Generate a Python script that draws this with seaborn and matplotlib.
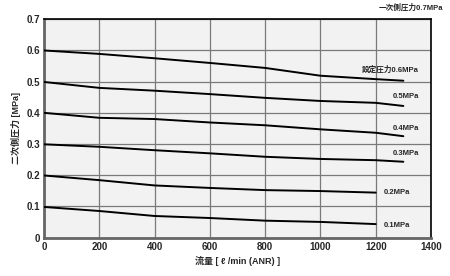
import matplotlib
matplotlib.use("Agg")
import matplotlib.pyplot as plt
import seaborn as sns
import pandas as pd

# Data
flow = [0, 200, 400, 600, 800, 1000, 1200, 1300]
flow_short = [0, 200, 400, 600, 800, 1000, 1200]
p06 = [0.600, 0.589, 0.575, 0.560, 0.544, 0.519, 0.508, 0.503]
p05 = [0.499, 0.480, 0.471, 0.460, 0.448, 0.438, 0.432, 0.422]
p04 = [0.400, 0.384, 0.380, 0.369, 0.360, 0.347, 0.336, 0.325]
p03 = [0.299, 0.291, 0.280, 0.270, 0.259, 0.252, 0.248, 0.243]
p02 = [0.199, 0.184, 0.167, 0.159, 0.152, 0.149, 0.144]
p01 = [0.098, 0.085, 0.069, 0.0625, 0.054, 0.050, 0.043]

labels = ["設定圧力0.6MPa", "0.5MPa", "0.4MPa", "0.3MPa", "0.2MPa", "0.1MPa"]
label_x = [1357, 1357, 1357, 1357, 1324, 1324]
label_y = [0.537, 0.451, 0.350, 0.270, 0.144, 0.037]

xticks = [0, 200, 400, 600, 800, 1000, 1200, 1400]
yticks = [0, 0.1, 0.2, 0.3, 0.4, 0.5, 0.6, 0.7]
ytick_labels = ["0", "0.1", "0.2", "0.3", "0.4", "0.5", "0.6", "0.7"]

title = "一次側圧力0.7MPa"
xlabel = "流量 [ ℓ /min (ANR) ]"
ylabel = "二次側圧力 [MPa]"

sns.set_style("white")
plt.rcParams['font.family'] = ['Liberation Sans', 'Noto Sans CJK JP', 'DejaVu Sans']

fig = plt.figure(figsize=(4.5, 2.76), dpi=100)
ax = fig.add_axes([44/450, 1-237.5/276, 387/450, (237.5-19.3)/276])
ax.set_facecolor("#f2f2f2")

series = [(flow, p06), (flow, p05), (flow, p04), (flow, p03), (flow_short, p02), (flow_short, p01)]
for xs, ys in series:
    df = pd.DataFrame({"x": xs, "y": ys})
    sns.lineplot(data=df, x="x", y="y", ax=ax, color="black", linewidth=1.4, zorder=3)

ax.set_xlim(0, 1400)
ax.set_ylim(0, 0.7)
ax.set_xticks(xticks)
ax.set_xticklabels([str(v) for v in xticks])
ax.set_yticks(yticks)
ax.set_yticklabels(ytick_labels)
ax.grid(True, color="#7a7a7a", linewidth=0.9)
ax.set_axisbelow(True)
ax.tick_params(length=0, pad=3, labelsize=7)
for lab in ax.get_xticklabels() + ax.get_yticklabels():
    lab.set_fontweight("bold")

for side in ["left", "bottom"]:
    ax.spines[side].set_color("#666666")
    ax.spines[side].set_linewidth(2.0)
for side in ["top", "right"]:
    ax.spines[side].set_color("black")
    ax.spines[side].set_linewidth(1.2)

for t, x, y in zip(labels, label_x, label_y):
    ax.text(x, y, t, ha="right", va="center", fontsize=5.5, fontweight="bold", clip_on=False)

ax.set_xlabel(xlabel, fontsize=6.5, fontweight="bold", labelpad=3)
ax.set_ylabel(ylabel, fontsize=6.5, fontweight="bold", labelpad=4)

fig.text(443/450, 1-8/276, title, ha="right", va="center", fontsize=5.5, fontweight="bold")

fig.savefig("out.png", dpi=100)
